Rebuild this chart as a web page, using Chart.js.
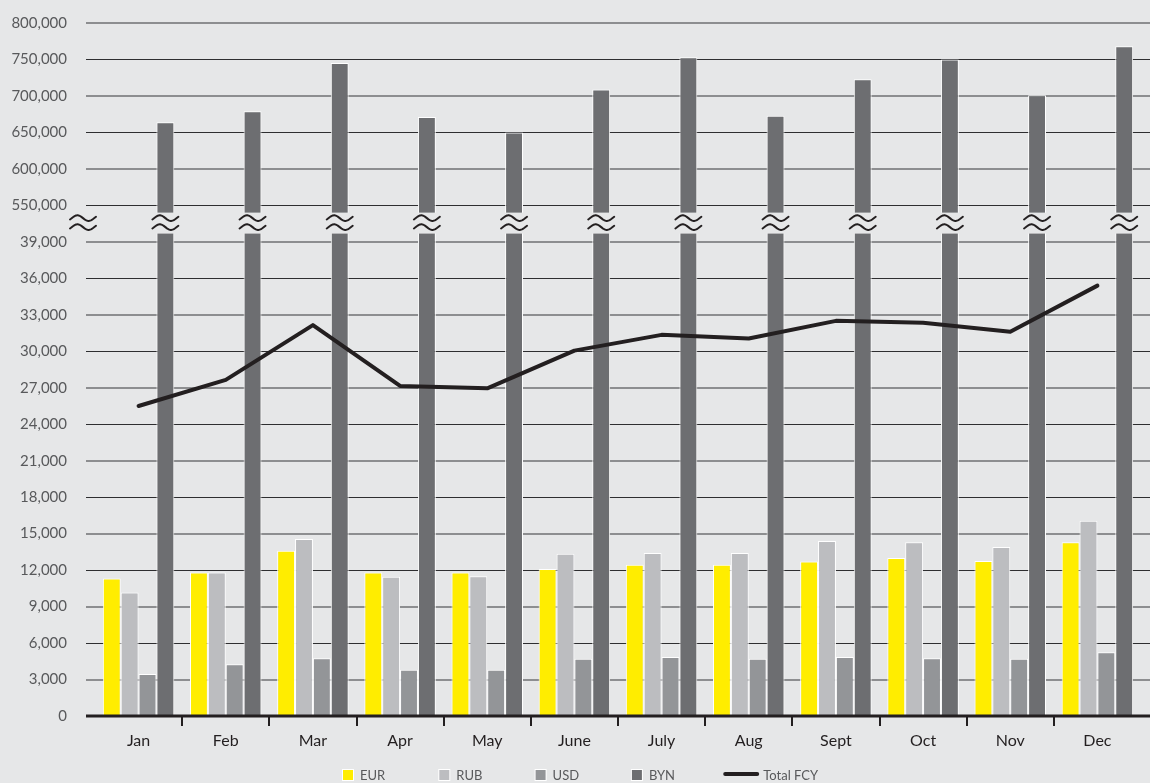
<!DOCTYPE html>
<html>
<head>
<meta charset="utf-8">
<script src="https://cdn.jsdelivr.net/npm/chart.js@4.4.1/dist/chart.umd.min.js"></script>
<style>
  html, body { margin: 0; padding: 0; background: #e6e7e8; overflow: hidden; }
  #wrap { width: 1150px; height: 783px; position: relative; }
</style>
</head>
<body>
<div id="wrap"><canvas id="c"></canvas></div>
<script>
// Monthly balances by currency
const months = ['Jan', 'Feb', 'Mar', 'Apr', 'May', 'June', 'July', 'Aug', 'Sept', 'Oct', 'Nov', 'Dec'];
const eur = [11300, 11800, 13600, 11800, 11800, 12100, 12450, 12450, 12700, 13000, 12750, 14300];
const rub = [10150, 11800, 14550, 11450, 11500, 13350, 13400, 13400, 14400, 14300, 13900, 16050];
const usd = [3450, 4250, 4750, 3800, 3800, 4700, 4850, 4700, 4850, 4750, 4700, 5250];
const byn = [664000, 679000, 745000, 671000, 650000, 709000, 753000, 673000, 723000, 750000, 701000, 768000];
const totalFcy = [25500, 27650, 32150, 27150, 26950, 30050, 31350, 31050, 32500, 32350, 31600, 35400];

// Broken value axis: a lower band and an upper band
const lowerTicks = [0, 3000, 6000, 9000, 12000, 15000, 18000, 21000, 24000, 27000, 30000, 33000, 36000, 39000];
const upperTicks = [550000, 600000, 650000, 700000, 750000, 800000];

const LOWER_STEP = lowerTicks[1] - lowerTicks[0];
const UPPER_STEP = upperTicks[1] - upperTicks[0];
const LOWER_MAX = lowerTicks[lowerTicks.length - 1];
const AXIS_MAX = lowerTicks.length + upperTicks.length - 1;
const BREAK_AT = lowerTicks.length - 0.5;

// Converts a real amount into a position on the broken axis
function toAxis(v) {
  if (v <= LOWER_MAX) return v / LOWER_STEP;
  return lowerTicks.length + (v - upperTicks[0]) / UPPER_STEP;
}
function tickText(i) {
  const v = i < lowerTicks.length ? lowerTicks[i] : upperTicks[i - lowerTicks.length];
  return v === undefined ? '' : v.toLocaleString('en-US');
}

const BG = '#e6e7e8';
const FONT = 'Lato, "Open Sans", sans-serif';
const colors = { EUR: '#ffed00', RUB: '#bcbdc0', USD: '#939598', BYN: '#6d6e71', line: '#231f20' };

function barSet(label, values, color) {
  return {
    type: 'bar', label, data: values.map(toAxis), backgroundColor: color,
    borderColor: '#ffffff', borderWidth: 1, order: 1,
    categoryPercentage: 0.82, barPercentage: 1.0
  };
}

// Horizontal grid lines spanning the full width, plus the baseline
const gridPlugin = {
  id: 'fullGrid',
  beforeDatasetsDraw(chart) {
    const { ctx } = chart;
    const y = chart.scales.y;
    ctx.save();
    for (let i = 1; i <= AXIS_MAX; i++) {
      const py = Math.round(y.getPixelForValue(i));
      const light = i % 2 === 1;
      ctx.strokeStyle = light ? '#8d8e90' : '#2e2e30';
      ctx.lineWidth = light ? 2 : 1;
      ctx.beginPath();
      ctx.moveTo(86, light ? py : py + 0.5);
      ctx.lineTo(chart.width, light ? py : py + 0.5);
      ctx.stroke();
    }
    ctx.restore();
  },
  afterDatasetsDraw(chart) {
    const { ctx, chartArea } = chart;
    const y = chart.scales.y;
    const yb = y.getPixelForValue(BREAK_AT);
    ctx.save();
    // gap cut through the bars at the break
    ctx.fillStyle = BG;
    ctx.fillRect(chartArea.left, yb - 11, chartArea.right - chartArea.left, 21);
    // break marks on the axis and on every bar that crosses it
    const meta = chart.getDatasetMeta(chart.data.datasets.findIndex(d => d.label === 'BYN'));
    const xs = [83].concat(meta.data.map(b => b.x));
    ctx.strokeStyle = '#231f20';
    ctx.lineWidth = 2;
    ctx.lineCap = 'round';
    xs.forEach(cx => {
      [-4.5, 4.5].forEach(dy => {
        ctx.beginPath();
        const w = 26, a = 2.8;
        for (let k = 0; k <= 40; k++) {
          const t = -0.08 + 1.16 * k / 40;
          const px = cx - w / 2 + w * (t + 0.08) / 1.16;
          const py = yb - 1 + dy - a * Math.sin(2 * Math.PI * t);
          if (k === 0) ctx.moveTo(px, py); else ctx.lineTo(px, py);
        }
        ctx.stroke();
      });
    });
    // baseline
    const y0 = y.getPixelForValue(0);
    ctx.strokeStyle = '#231f20';
    ctx.lineWidth = 3;
    ctx.lineCap = 'butt';
    ctx.beginPath();
    ctx.moveTo(86, y0);
    ctx.lineTo(chart.width, y0);
    ctx.stroke();
    ctx.restore();
  }
};

// Legend row along the bottom edge
const legendPlugin = {
  id: 'bottomLegend',
  afterDraw(chart) {
    const { ctx } = chart;
    const cy = 775;
    const start = chart.width / 2 - 232;
    const step = 96.3;
    ctx.save();
    ctx.font = '13px ' + FONT;
    ctx.textBaseline = 'middle';
    ctx.fillStyle = '#58595b';
    const bars = chart.data.datasets.filter(d => d.type === 'bar');
    bars.forEach((d, i) => {
      const x = start + i * step;
      ctx.fillStyle = '#ffffff';
      ctx.fillRect(x - 1, cy - 6, 12, 12);
      ctx.fillStyle = d.backgroundColor;
      ctx.fillRect(x, cy - 5, 10, 10);
      ctx.fillStyle = '#58595b';
      ctx.fillText(d.label, x + 17, cy + 1);
    });
    const line = chart.data.datasets.find(d => d.type === 'line');
    const lx = start + bars.length * step - 5;
    ctx.strokeStyle = line.borderColor;
    ctx.lineWidth = 4;
    ctx.lineCap = 'round';
    ctx.beginPath();
    ctx.moveTo(lx + 2, cy - 1);
    ctx.lineTo(lx + 34, cy - 1);
    ctx.stroke();
    ctx.fillStyle = '#58595b';
    ctx.fillText(line.label, lx + 40, cy + 1);
    ctx.restore();
  }
};

new Chart(document.getElementById('c'), {
  data: {
    labels: months,
    datasets: [
      {
        type: 'line', label: 'Total FCY', data: totalFcy.map(toAxis),
        borderColor: colors.line, borderWidth: 4, pointRadius: 0, tension: 0,
        borderJoinStyle: 'round', borderCapStyle: 'round', order: 0
      },
      barSet('EUR', eur, colors.EUR),
      barSet('RUB', rub, colors.RUB),
      barSet('USD', usd, colors.USD),
      barSet('BYN', byn, colors.BYN)
    ]
  },
  options: {
    responsive: true,
    maintainAspectRatio: false,
    animation: false,
    devicePixelRatio: 1,
    layout: { padding: { top: 23, right: 9, left: 0, bottom: 0 } },
    plugins: { legend: { display: false }, tooltip: { enabled: false } },
    scales: {
      x: {
        offset: true,
        border: { display: false },
        grid: {
          offset: true, drawOnChartArea: false, drawTicks: true, tickLength: 10, lineWidth: 2,
          color: c => (c.type === 'tick' && c.index > 0) ? '#231f20' : 'rgba(0,0,0,0)'
        },
        ticks: { color: '#231f20', font: { family: FONT, size: 16 }, padding: 5 },
        afterFit: s => { s.height = 67; }
      },
      y: {
        min: 0, max: AXIS_MAX,
        border: { display: false },
        grid: { display: false, drawTicks: false },
        ticks: {
          stepSize: 1, padding: 28, color: '#58595b',
          font: { family: FONT, size: 15 },
          callback: v => tickText(v)
        },
        afterFit: s => { s.width = 95; s.paddingTop = 0; s.paddingBottom = 0; }
      }
    }
  },
  plugins: [gridPlugin, legendPlugin]
});
</script>
</body>
</html>
